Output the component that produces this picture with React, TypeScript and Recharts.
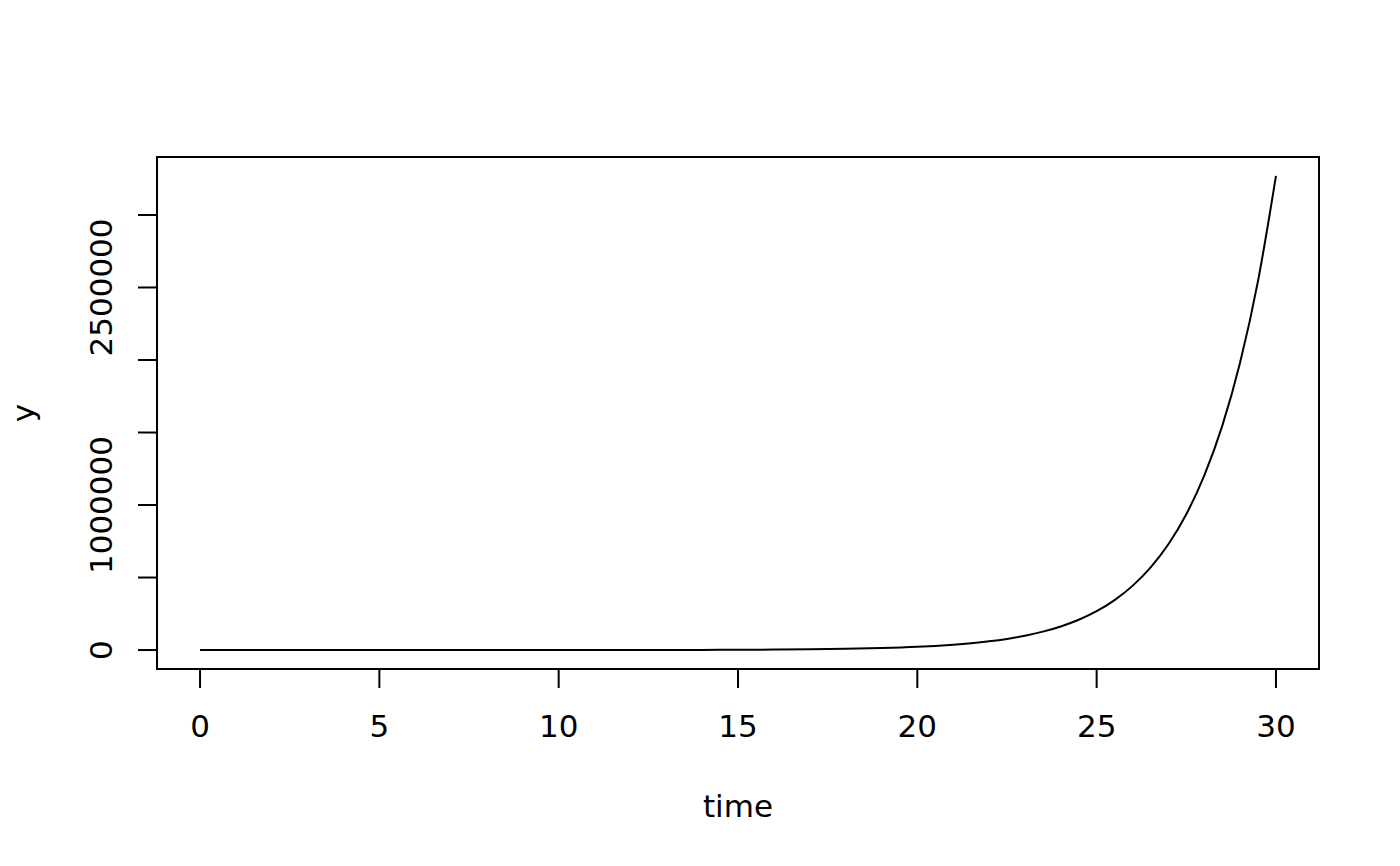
import React from 'react';
import {
  LineChart,
  Line,
  XAxis,
  YAxis,
  ReferenceArea,
} from 'recharts';

// values (time, y)
const times = [
  0, 1, 2, 3, 4, 5, 6, 7, 8, 9, 10, 11, 12, 13, 14, 15, 16, 17, 18, 19, 20,
  20.5, 21, 21.5, 22, 22.5, 23, 23.5, 24, 24.5, 25, 25.5, 26, 26.5, 27, 27.5,
  28, 28.5, 29, 29.5, 30,
];
const yValues = [
  1, 1.65, 2.72, 4.48, 7.39, 12.2, 20.1, 33.1, 54.6, 90, 148, 245, 403, 665,
  1097, 1808, 2981, 4915, 8103, 13360, 22026, 28283, 36316, 46630, 59874,
  76880, 98716, 126753, 162755, 208981, 268337, 344551, 442413, 568070,
  729416, 936589, 1202604, 1544174, 1982759, 2545913, 3269017,
];

const xTicks = [0, 5, 10, 15, 20, 25, 30];
const yTicks = [0, 500000, 1000000, 1500000, 2000000, 2500000, 3000000];
const yTickLabels = ['0', '1000000', '2500000'];

const data = times.map((t, i) => ({ time: t, y: yValues[i] }));

// R-style 4% axis extension
const xMin = Math.min(...times);
const xMax = Math.max(...times);
const yMin = Math.min(...yValues);
const yMax = Math.max(...yValues);
const xPad = (xMax - xMin) * 0.04;
const yPad = (yMax - yMin) * 0.04;
const xDomain = [xMin - xPad, xMax + xPad];
const yDomain = [yMin - yPad, yMax + yPad];

const FONT = '"DejaVu Sans", sans-serif';
const FS = 31;

const XTick = (props: any) => {
  const { x, y, payload } = props;
  return (
    <text x={x} y={y + 49} textAnchor="middle" fontFamily={FONT} fontSize={FS} fill="#000">
      {payload.value}
    </text>
  );
};

const YTick = (props: any) => {
  const { x, y, payload } = props;
  const label = String(payload.value);
  if (!yTickLabels.includes(label)) return null;
  const bx = x - 26;
  return (
    <text
      x={bx}
      y={y}
      transform={`rotate(-90, ${bx}, ${y})`}
      textAnchor="middle"
      fontFamily={FONT}
      fontSize={FS}
      fill="#000"
    >
      {label}
    </text>
  );
};

const App = () => {
  return (
    <div style={{ position: 'absolute', left: 0, top: 0, background: '#fff' }}>
      <LineChart
        width={1400}
        height={866}
        data={data}
        margin={{ top: 157, right: 81, left: 0, bottom: 0 }}
      >
        <XAxis
          dataKey="time"
          type="number"
          domain={xDomain}
          ticks={xTicks}
          allowDataOverflow
          height={197}
          axisLine={false}
          tickSize={19}
          tickMargin={0}
          tickLine={{ stroke: '#000', strokeWidth: 2 }}
          tick={<XTick />}
          label={{
            content: () => (
              <text x={738} y={817} textAnchor="middle" fontFamily={FONT} fontSize={FS} fill="#000">
                time
              </text>
            ),
          }}
        />
        <YAxis
          type="number"
          domain={yDomain}
          ticks={yTicks}
          allowDataOverflow
          width={157}
          axisLine={false}
          tickSize={19}
          tickMargin={0}
          tickLine={{ stroke: '#000', strokeWidth: 2 }}
          tick={<YTick />}
          label={{
            content: () => (
              <text
                x={34}
                y={413}
                transform="rotate(-90, 34, 413)"
                textAnchor="middle"
                fontFamily={FONT}
                fontSize={FS}
                fill="#000"
              >
                y
              </text>
            ),
          }}
        />
        <ReferenceArea
          x1={xDomain[0]}
          x2={xDomain[1]}
          y1={yDomain[0]}
          y2={yDomain[1]}
          fill="none"
          fillOpacity={0}
          stroke="#000"
          strokeWidth={2}
          ifOverflow="visible"
        />
        <Line
          type="monotone"
          dataKey="y"
          stroke="#000"
          strokeWidth={2}
          dot={false}
          isAnimationActive={false}
        />
      </LineChart>
    </div>
  );
};

export default App;
